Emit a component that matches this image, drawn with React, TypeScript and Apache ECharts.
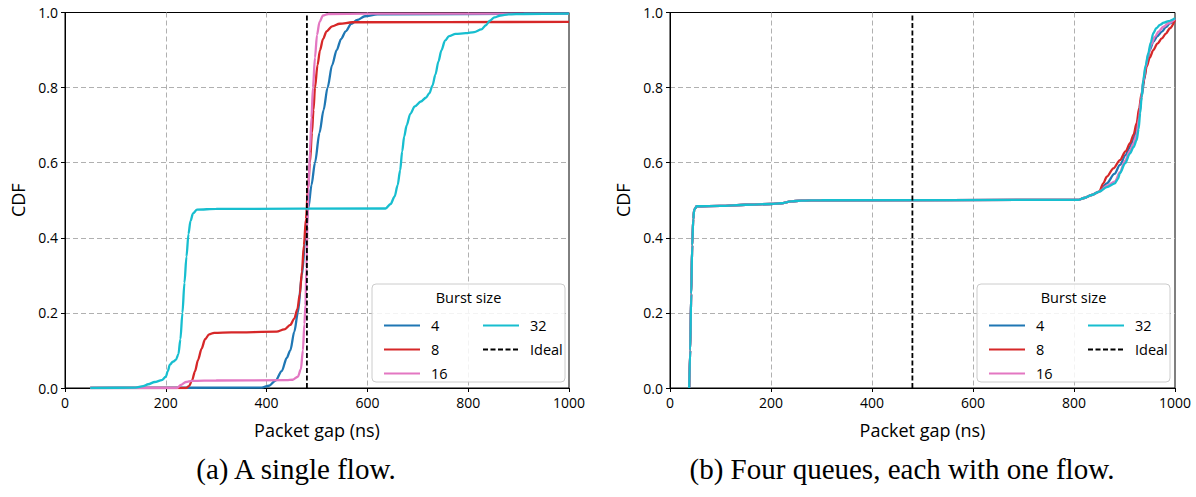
import React, { useEffect, useRef } from "react";
import * as echarts from "echarts";

// ---------- data ----------
const burstNames = ["4", "8", "16", "32"];
const idealGap = 480;
const xTicks = [0, 200, 400, 600, 800, 1000];
const yTicks = [0, 0.2, 0.4, 0.6, 0.8, 1.0];

// (a) single flow
const singleB4 = [[50,0],[390,0.001],[405,0.006],[418,0.02],[430,0.045],[440,0.08],[447,0.1],[455,0.15],[462,0.2],[470,0.3],[477,0.4],[483,0.48],[489,0.54],[496,0.6],[505,0.68],[513,0.74],[521,0.8],[530,0.86],[539,0.9],[548,0.93],[557,0.95],[568,0.97],[580,0.98],[595,0.99],[620,0.995],[1000,0.997]];
const singleB8 = [[50,0],[240,0],[246,0.005],[252,0.02],[258,0.045],[264,0.075],[271,0.105],[278,0.13],[286,0.143],[296,0.147],[330,0.148],[420,0.15],[435,0.156],[447,0.168],[455,0.185],[461,0.21],[466,0.25],[470,0.31],[474,0.38],[478,0.45],[482,0.53],[486,0.6],[490,0.68],[493,0.74],[496,0.8],[501,0.86],[506,0.9],[512,0.93],[519,0.95],[530,0.963],[545,0.97],[570,0.974],[1000,0.975]];
const singleB16 = [[50,0],[222,0],[230,0.008],[240,0.016],[252,0.019],[300,0.02],[440,0.021],[452,0.022],[462,0.03],[468,0.05],[472,0.1],[475,0.17],[477,0.22],[479,0.32],[481,0.43],[483,0.53],[486,0.63],[489,0.72],[492,0.8],[496,0.88],[500,0.94],[505,0.975],[512,0.992],[522,0.996],[600,0.997],[1000,0.997]];
const singleB32 = [[50,0],[140,0.001],[155,0.005],[165,0.01],[178,0.016],[192,0.021],[200,0.03],[204,0.045],[208,0.062],[214,0.07],[220,0.075],[225,0.09],[229,0.13],[233,0.2],[237,0.28],[241,0.35],[245,0.41],[249,0.445],[254,0.465],[262,0.475],[300,0.477],[636,0.478],[646,0.49],[654,0.51],[660,0.54],[665,0.58],[669,0.63],[673,0.67],[678,0.7],[685,0.73],[694,0.75],[706,0.763],[716,0.773],[723,0.785],[729,0.805],[735,0.835],[741,0.87],[747,0.9],[754,0.925],[762,0.937],[775,0.943],[795,0.945],[812,0.948],[826,0.955],[835,0.966],[843,0.978],[852,0.987],[864,0.992],[880,0.995],[910,0.996],[1000,0.997]];

// (b) four queues
const queuesB4 = [[38,0],[40,0.1],[42,0.25],[44,0.38],[46,0.45],[48,0.475],[53,0.484],[100,0.485],[150,0.488],[200,0.49],[220,0.492],[240,0.497],[260,0.499],[300,0.5],[808,0.501],[820,0.506],[835,0.514],[850,0.523],[865,0.545],[880,0.57],[891,0.594],[902,0.62],[911,0.643],[918,0.665],[924,0.69],[929,0.73],[934,0.776],[939,0.82],[944,0.865],[950,0.9],[957,0.922],[965,0.937],[974,0.949],[982,0.961],[990,0.971],[1000,0.983]];
const queuesB8 = [[38,0],[40,0.1],[42,0.25],[44,0.38],[46,0.45],[48,0.475],[53,0.484],[100,0.485],[150,0.488],[200,0.49],[220,0.492],[240,0.497],[260,0.499],[300,0.5],[808,0.501],[820,0.506],[835,0.514],[850,0.523],[858,0.545],[865,0.563],[878,0.585],[891,0.607],[902,0.63],[911,0.652],[918,0.675],[924,0.705],[929,0.745],[934,0.785],[939,0.825],[944,0.856],[950,0.88],[957,0.9],[965,0.917],[974,0.931],[982,0.944],[990,0.958],[1000,0.98]];
const queuesB16 = [[38,0],[40,0.1],[42,0.25],[44,0.38],[46,0.45],[48,0.475],[53,0.484],[100,0.485],[150,0.488],[200,0.49],[220,0.492],[240,0.497],[260,0.499],[300,0.5],[808,0.501],[820,0.506],[835,0.514],[850,0.523],[865,0.538],[881,0.55],[891,0.575],[901,0.605],[911,0.632],[918,0.652],[924,0.675],[929,0.72],[933,0.77],[937,0.815],[942,0.855],[947,0.888],[953,0.915],[960,0.935],[968,0.95],[977,0.962],[988,0.972],[1000,0.983]];
const queuesB32 = [[38,0],[40,0.1],[42,0.25],[44,0.38],[46,0.45],[48,0.475],[53,0.484],[100,0.485],[150,0.488],[200,0.49],[220,0.492],[240,0.497],[260,0.499],[300,0.5],[808,0.501],[820,0.506],[835,0.514],[850,0.523],[865,0.535],[881,0.545],[887,0.557],[891,0.572],[901,0.598],[911,0.625],[918,0.642],[924,0.66],[928,0.69],[931,0.732],[934,0.775],[937,0.82],[942,0.86],[947,0.891],[952,0.92],[957,0.945],[963,0.958],[970,0.967],[978,0.973],[987,0.977],[1000,0.985]];

const captions = ["(a) A single flow.", "(b) Four queues, each with one flow."];
const xAxisTitle = "Packet gap (ns)";
const yAxisTitle = "CDF";
const legendTitle = "Burst size";
const idealName = "Ideal";

// ---------- styles ----------
const colors = ["#1f77b4", "#d62728", "#e377c2", "#17becf"];
const SANS = "'Open Sans', 'Noto Sans', sans-serif";
const SERIF = "'Liberation Serif', 'DejaVu Serif', serif";

const panels = [
  { left: 65, width: 504, series: [singleB4, singleB8, singleB16, singleB32], captionX: 296 },
  { left: 670, width: 505, series: [queuesB4, queuesB8, queuesB16, queuesB32], captionX: 902 },
];
const TOP = 12.5;
const HEIGHT = 375.5;

export default function App() {
  const ref = useRef<HTMLDivElement>(null);

  useEffect(() => {
    document.body.style.margin = "0";
    if (!ref.current) return;
    const chart = echarts.init(ref.current, undefined, { renderer: "svg" });

    const grid: any[] = [];
    const xAxis: any[] = [];
    const yAxis: any[] = [];
    const series: any[] = [];
    const legend: any[] = [];
    const graphic: any[] = [];

    panels.forEach((p, i) => {
      grid.push({
        left: p.left,
        top: TOP,
        width: p.width,
        height: HEIGHT,
        show: true,
        borderColor: "#000",
        borderWidth: 1,
        backgroundColor: "#fff",
      });
      xAxis.push({
        type: "value",
        gridIndex: i,
        min: xTicks[0],
        max: xTicks[xTicks.length - 1],
        interval: 200,
        name: xAxisTitle,
        nameLocation: "middle",
        nameGap: 33,
        nameTextStyle: { fontFamily: SANS, fontSize: 18, color: "#000" },
        axisLine: { show: true, lineStyle: { color: "#000", width: 1 } },
        axisTick: { show: true, length: 4, lineStyle: { color: "#000", width: 1 } },
        axisLabel: { fontFamily: SANS, fontSize: 14, color: "#000", margin: 7, formatter: (v: number) => String(v) },
        splitLine: { show: true, showMinLine: false, showMaxLine: false, lineStyle: { color: "#b0b0b0", type: [5, 3], width: 1 } },
      });
      yAxis.push({
        type: "value",
        gridIndex: i,
        min: yTicks[0],
        max: yTicks[yTicks.length - 1],
        interval: 0.2,
        name: yAxisTitle,
        nameLocation: "middle",
        nameGap: 38,
        nameRotate: 90,
        nameTextStyle: { fontFamily: SANS, fontSize: 18, color: "#000" },
        axisLine: { show: true, lineStyle: { color: "#000", width: 1 } },
        axisTick: { show: true, length: 4, lineStyle: { color: "#000", width: 1 } },
        axisLabel: { fontFamily: SANS, fontSize: 14, color: "#000", margin: 7, formatter: (v: number) => v.toFixed(1) },
        splitLine: { show: true, showMinLine: false, showMaxLine: false, lineStyle: { color: "#b0b0b0", type: [5, 3], width: 1 } },
      });
      p.series.forEach((d, k) => {
        series.push({
          type: "line",
          name: burstNames[k],
          xAxisIndex: i,
          yAxisIndex: i,
          data: d,
          symbol: "none",
          smooth: 0.3,
          smoothMonotone: "x",
          lineStyle: { color: colors[k], width: 2.3 },
          itemStyle: { color: colors[k] },
          z: 2 + k,
        });
      });
      series.push({
        type: "line",
        name: idealName,
        xAxisIndex: i,
        yAxisIndex: i,
        data: [[idealGap, yTicks[0]], [idealGap, yTicks[yTicks.length - 1]]],
        symbol: "none",
        lineStyle: { color: "#000", width: 1.8, type: [5, 2.5] },
        itemStyle: { color: "#000" },
        z: 7,
      });

      const boxX = p.left + 307;
      const boxY = 284;
      graphic.push({
        type: "rect",
        shape: { x: boxX, y: boxY, width: 193, height: 98, r: 4 },
        style: { fill: "rgba(255,255,255,0.85)", stroke: "#cccccc", lineWidth: 1 },
        z: 20,
      });
      graphic.push({
        type: "text",
        x: boxX + 96.5,
        y: 297,
        style: {
          text: legendTitle,
          fontFamily: SANS,
          fontSize: 14.5,
          fill: "#000",
          align: "center",
          verticalAlign: "middle",
        },
        z: 21,
      });
      graphic.push({
        type: "text",
        x: p.captionX,
        y: 469,
        style: {
          text: captions[i],
          fontFamily: SERIF,
          fontSize: 29,
          fill: "#000",
          align: "center",
          verticalAlign: "middle",
        },
        z: 21,
      });

      const legendCommon = {
        orient: "vertical",
        itemWidth: 36,
        itemHeight: 14,
        itemGap: 9,
        selectedMode: false,
        z: 30,
        itemStyle: { opacity: 0 },
        textStyle: { fontFamily: SANS, fontSize: 14.5, color: "#000", lineHeight: 14, padding: [0, 0, 0, 6] },
      };
      legend.push({ ...legendCommon, data: burstNames.slice(0, 3), left: boxX + 6, top: 313 });
      legend.push({ ...legendCommon, data: [burstNames[3], idealName], left: boxX + 105, top: 313 });
    });

    chart.setOption({
      animation: false,
      backgroundColor: "#fff",
      grid,
      xAxis,
      yAxis,
      series,
      legend,
      graphic,
    });

    return () => chart.dispose();
  }, []);

  return <div ref={ref} style={{ width: 1196, height: 497 }} />;
}
